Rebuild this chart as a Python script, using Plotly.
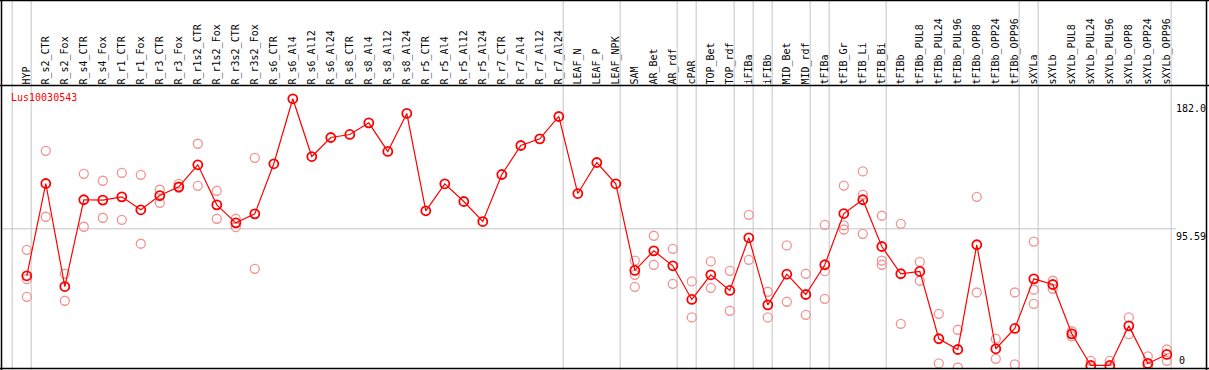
import plotly.graph_objects as go

W, H = 1209, 370

categories = [
    "HYP", "R_s2_CTR", "R_s2_Fox", "R_s4_CTR", "R_s4_Fox", "R_r1_CTR", "R_r1_Fox",
    "R_r3_CTR", "R_r3_Fox", "R_r1s2_CTR", "R_r1s2_Fox", "R_r3s2_CTR", "R_r3s2_Fox",
    "R_s6_CTR", "R_s6_Al4", "R_s6_Al12", "R_s6_Al24", "R_s8_CTR", "R_s8_Al4",
    "R_s8_Al12", "R_s8_Al24", "R_r5_CTR", "R_r5_Al4", "R_r5_Al12", "R_r5_Al24",
    "R_r7_CTR", "R_r7_Al4", "R_r7_Al12", "R_r7_Al24", "LEAF_N", "LEAF_P", "LEAF_NPK",
    "SAM", "AR_Bet", "AR_rdf", "cPAR", "TOP_Bet", "TOP_rdf", "iFIBa", "iFIBb",
    "MID_Bet", "MID_rdf", "tFIBa", "tFIB_Gr", "tFIB_Li", "tFIB_Bi", "tFIBb",
    "tFIBb_PUL8", "tFIBb_PUL24", "tFIBb_PUL96", "tFIBb_OPP8", "tFIBb_OPP24",
    "tFIBb_OPP96", "sXYLa", "sXYLb", "sXYLb_PUL8", "sXYLb_PUL24", "sXYLb_PUL96",
    "sXYLb_OPP8", "sXYLb_OPP24", "sXYLb_OPP96",
]

mean_vals = [
    63.2, 126.8, 55.8, 115.6, 115.4, 117.6, 108.7, 118.5, 124.5, 139.7, 112.1, 99.7, 105.9,
    140.4, 185.2, 145.4, 158.5, 160.6, 168.6, 148.9, 175.1, 108.0, 126.6, 114.4, 100.6,
    133.0, 153.0, 157.6, 173.0, 119.9, 141.3, 126.6,
    66.9, 80.4, 70.1, 46.9, 63.9, 53.1, 89.4, 43.2, 64.3, 50.3, 70.8, 106.1, 115.6, 83.4,
    64.6, 66.2, 19.8, 12.4, 84.6, 12.9, 26.9, 61.1, 57.2, 23.2, 1.4, 1.4, 28.7, 2.8, 9.0,
]

rep_a = [
    81.1, 149.3, 64.6, 133.5, 128.7, 134.2, 132.8, 122.5, 126.6, 154.2, 121.8, 102.5, 144.5,
    None, None, None, None, None, None, None, None, None, None, None, None,
    None, None, None, None, None, None, None,
    73.7, 90.8, 81.8, 59.3, 73.1, 66.6, 105.2, 52.2, 84.1, 64.6, 98.3, 125.4, 135.1, 104.6,
    99.0, 72.8, 37.0, 26.0, 117.6, 19.8, 51.7, 86.8, 59.8, 25.0, 4.6, 4.6, 34.5, 7.6, 12.4,
]
rep_b = [
    60.9, 103.9, 46.0, 97.0, 103.2, 101.8, 85.3, 113.5, 123.8, 125.2, 102.5, 96.7, 68.0,
    None, None, None, None, None, None, None, None, None, None, None, None,
    None, None, None, None, None, None, None,
    63.9, 70.8, 57.7, 34.5, 54.9, 39.1, 74.2, 34.5, 45.3, 36.3, 66.4, 97.9, 119.2, 73.7,
    30.1, 59.8, 2.8, 0.0, 51.7, 6.0, 2.1, 53.6, 54.2, 21.4, 0.2, 0.0, 23.0, 0.0, 4.6,
]
rep_c = [
    48.7, None, None, None, None, None, None, None, None, None, None, None, None,
    None, None, None, None, None, None, None, None, None, None, None, None,
    None, None, None, None, None, None, None,
    55.6, None, None, None, None, None, None, None, None, None, 47.3, 95.1, 92.1, 70.8,
    None, None, None, None, None, None, None, 43.9, None, None, None, None, None, None, None,
]

separator_after = [-1, 0, 28, 31, 34, 35, 37, 38, 39, 41, 42, 45, 52, 53, 60]
y_tick_vals = [182.0, 95.59, 0]
y_tick_text = ["182.0", "95.59", "0"]
gene_name = "Lus10030543"

MONO = "DejaVu Sans Mono"
RED = "#ff0000"
PALE = "#f09494"

rep_x, rep_y = [], []
for reps in (rep_a, rep_b, rep_c):
    for c, v in zip(categories, reps):
        if v is not None:
            rep_x.append(c)
            rep_y.append(v)

fig = go.Figure()
fig.add_trace(go.Scatter(
    x=rep_x, y=rep_y, mode="markers",
    marker=dict(symbol="circle-open", size=9, color=PALE, line=dict(width=1.3, color=PALE)),
    hoverinfo="skip", showlegend=False,
))
fig.add_trace(go.Scatter(
    x=categories, y=mean_vals, mode="lines+markers",
    line=dict(color=RED, width=1.2),
    marker=dict(symbol="circle-open", size=9, color=RED, line=dict(width=1.8, color=RED)),
    showlegend=False,
))

shapes = []
for s in separator_after:
    shapes.append(dict(type="line", xref="x", yref="paper", x0=s + 0.23, x1=s + 0.23,
                       y0=0, y1=1, line=dict(color="#c4c4c4", width=1), layer="below"))
shapes.append(dict(type="line", xref="paper", yref="y", x0=1 / W, x1=1176 / W,
                   y0=y_tick_vals[1], y1=y_tick_vals[1],
                   line=dict(color="#c4c4c4", width=1), layer="below"))
black = dict(color="black", width=1.5)
shapes.append(dict(type="line", xref="paper", yref="paper", x0=0, x1=1, y0=1 - 0.5 / H, y1=1 - 0.5 / H, line=black))
shapes.append(dict(type="line", xref="paper", yref="paper", x0=0, x1=1, y0=1 - 85.5 / H, y1=1 - 85.5 / H, line=black))
shapes.append(dict(type="line", xref="paper", yref="paper", x0=0, x1=1, y0=1 - 368.5 / H, y1=1 - 368.5 / H, line=black))
shapes.append(dict(type="line", xref="paper", yref="paper", x0=1.5 / W, x1=1.5 / W, y0=0, y1=1, line=black))
shapes.append(dict(type="line", xref="paper", yref="paper", x0=1206.5 / W, x1=1206.5 / W, y0=0, y1=1, line=black))

annotations = [
    dict(text=gene_name, xref="paper", yref="paper", x=9 / W, y=1 - 97.5 / H,
         xanchor="left", yanchor="middle", showarrow=False,
         font=dict(family=MONO, size=10, color=RED)),
    dict(text=y_tick_text[0], xref="paper", yref="y", x=1174 / W, y=y_tick_vals[0],
         xanchor="left", yanchor="top", showarrow=False, yshift=2,
         font=dict(family=MONO, size=10, color="black")),
    dict(text=y_tick_text[1], xref="paper", yref="y", x=1174 / W, y=y_tick_vals[1],
         xanchor="left", yanchor="top", showarrow=False,
         font=dict(family=MONO, size=10, color="black")),
    dict(text=y_tick_text[2], xref="paper", yref="y", x=1177 / W, y=y_tick_vals[2],
         xanchor="left", yanchor="bottom", showarrow=False,
         font=dict(family=MONO, size=10, color="black")),
]

fig.update_layout(
    width=W, height=H,
    margin=dict(l=0, r=0, t=0, b=0),
    paper_bgcolor="white", plot_bgcolor="white",
    shapes=shapes, annotations=annotations,
    xaxis=dict(
        type="category", categoryorder="array", categoryarray=categories,
        domain=[1.5 / W, 1206.5 / W], range=[-1.3316, 62.0895],
        side="top", tickmode="array", tickvals=categories, ticktext=categories,
        tickangle=-90, tickfont=dict(family=MONO, size=10, color="black"),
        showgrid=False, zeroline=False, showline=False, ticks="",
    ),
    yaxis=dict(
        domain=[1.5 / H, 284.5 / H], range=[-0.689, 194.35],
        showgrid=False, zeroline=False, showline=False, showticklabels=False, ticks="",
    ),
)

fig.write_html(
    "out.html",
    config={"displayModeBar": False},
    post_script="document.body.style.margin='0';document.body.style.overflow='hidden';",
)
